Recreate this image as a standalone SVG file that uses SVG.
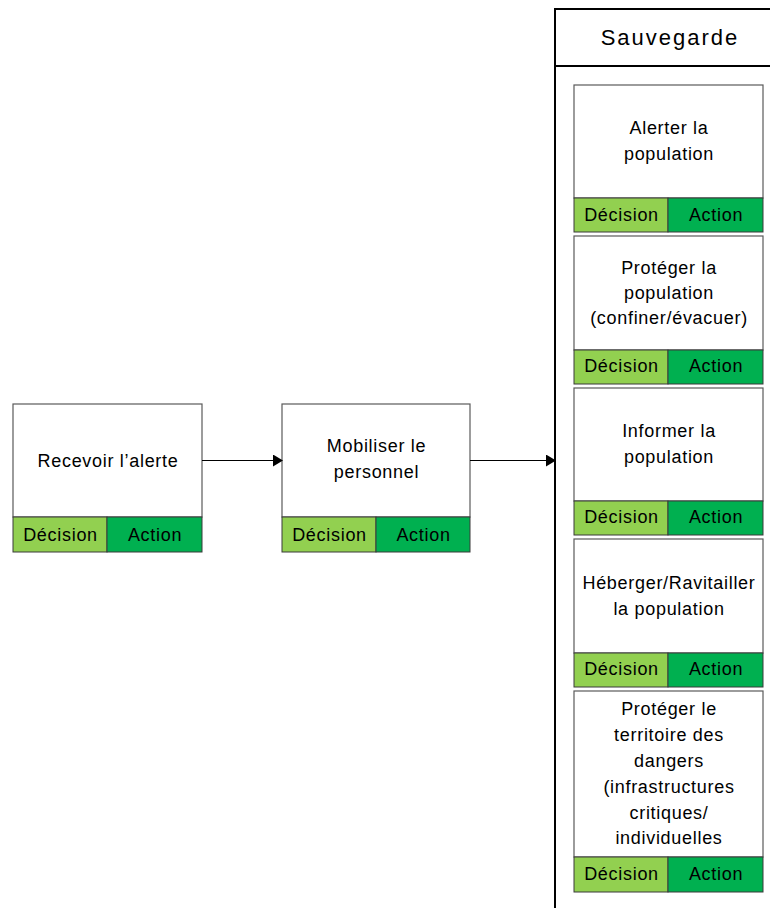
<svg xmlns="http://www.w3.org/2000/svg" width="770" height="908" viewBox="0 0 770 908">
<defs>
<style>
.box{fill:#fff;stroke:#5a5a5a;stroke-width:1.2}
.dec{fill:#92D050;stroke:#3a3a3a;stroke-width:1}
.act{fill:#00B050;stroke:#3a3a3a;stroke-width:1}
text{font-family:"Liberation Sans","Noto Sans",sans-serif;font-size:18px;fill:#000;text-anchor:middle;letter-spacing:0.7px}
.title{font-size:22px;letter-spacing:2px}
.con{stroke:#000;stroke-width:1.2;fill:none}
</style>
<marker id="arr" markerWidth="10" markerHeight="12" refX="9" refY="6" orient="auto" markerUnits="userSpaceOnUse">
<path d="M0,0 L10,6 L0,12 Z" fill="#000"/>
</marker>
</defs>
<rect width="770" height="908" fill="#fff"/>
<g id="sauvegarde">
<path d="M555,908 L555,9 L770,9" fill="none" stroke="#000" stroke-width="2"/>
<line x1="555" y1="66" x2="770" y2="66" stroke="#000" stroke-width="2"/>
<text class="title" x="670" y="45">Sauvegarde</text>
</g>
<g id="recevoir">
<rect class="box" x="13" y="404" width="189" height="113"/>
<rect class="dec" x="13" y="517" width="94" height="35"/>
<rect class="act" x="107" y="517" width="95" height="35"/>
<text x="108" y="467">Recevoir l’alerte</text>
<text x="60.5" y="541">Décision</text>
<text x="155" y="541">Action</text>
</g>
<g id="mobiliser">
<rect class="box" x="282" y="404" width="188" height="113"/>
<rect class="dec" x="282" y="517" width="94" height="35"/>
<rect class="act" x="376" y="517" width="94" height="35"/>
<text x="376.5" y="452">Mobiliser le</text>
<text x="376.5" y="478">personnel</text>
<text x="329.5" y="541">Décision</text>
<text x="423.5" y="541">Action</text>
</g>
<g id="alerter">
<rect class="box" x="574" y="85" width="189" height="113"/>
<rect class="dec" x="574" y="198" width="94" height="34"/>
<rect class="act" x="668" y="198" width="95" height="34"/>
<text x="669" y="134">Alerter la</text>
<text x="669" y="160">population</text>
<text x="621.5" y="221">Décision</text>
<text x="716" y="221">Action</text>
</g>
<g id="proteger-pop">
<rect class="box" x="574" y="236" width="189" height="114"/>
<rect class="dec" x="574" y="350" width="94" height="34"/>
<rect class="act" x="668" y="350" width="95" height="34"/>
<text x="669" y="274">Protéger la</text>
<text x="669" y="299">population</text>
<text x="669" y="324">(confiner/évacuer)</text>
<text x="621.5" y="372">Décision</text>
<text x="716" y="372">Action</text>
</g>
<g id="informer">
<rect class="box" x="574" y="388" width="189" height="113"/>
<rect class="dec" x="574" y="501" width="94" height="34"/>
<rect class="act" x="668" y="501" width="95" height="34"/>
<text x="669" y="437">Informer la</text>
<text x="669" y="463">population</text>
<text x="621.5" y="523">Décision</text>
<text x="716" y="523">Action</text>
</g>
<g id="heberger">
<rect class="box" x="574" y="539" width="189" height="114"/>
<rect class="dec" x="574" y="653" width="94" height="34"/>
<rect class="act" x="668" y="653" width="95" height="34"/>
<text x="669" y="589">Héberger/Ravitailler</text>
<text x="669" y="615">la population</text>
<text x="621.5" y="675">Décision</text>
<text x="716" y="675">Action</text>
</g>
<g id="proteger-terr">
<rect class="box" x="574" y="691" width="189" height="166"/>
<rect class="dec" x="574" y="857" width="94" height="35"/>
<rect class="act" x="668" y="857" width="95" height="35"/>
<text x="669" y="715">Protéger le</text>
<text x="669" y="741">territoire des</text>
<text x="669" y="767">dangers</text>
<text x="669" y="793">(infrastructures</text>
<text x="669" y="819">critiques/</text>
<text x="669" y="844">individuelles</text>
<text x="621.5" y="880">Décision</text>
<text x="716" y="880">Action</text>
</g>
<g id="connectors">
<line class="con" x1="202" y1="460.5" x2="282" y2="460.5" marker-end="url(#arr)"/>
<line class="con" x1="470" y1="460.5" x2="555" y2="460.5" marker-end="url(#arr)"/>
</g>
</svg>
